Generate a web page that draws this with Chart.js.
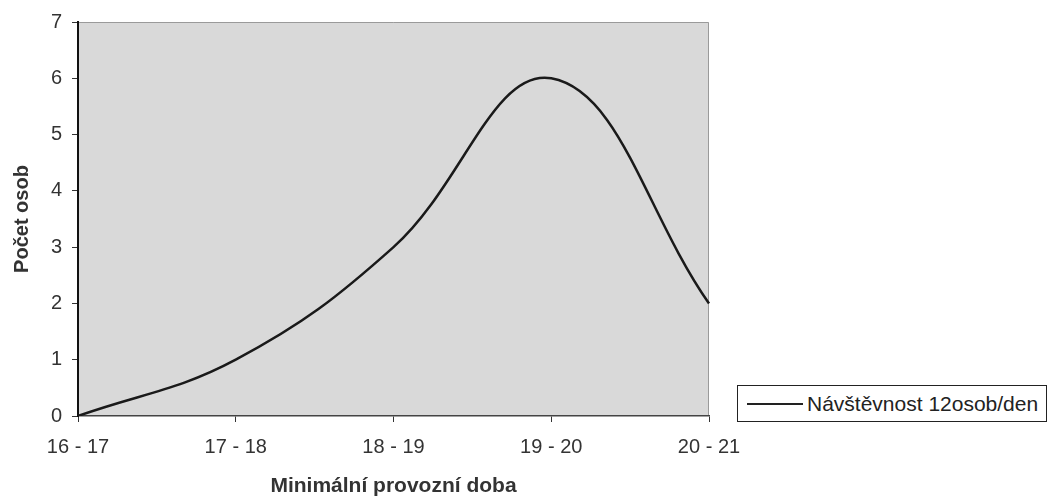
<!DOCTYPE html>
<html>
<head>
<meta charset="utf-8">
<script src="https://cdn.jsdelivr.net/npm/chart.js@4/dist/chart.umd.min.js"></script>
<style>
  html, body { margin: 0; padding: 0; background: #fff; }
  #wrap { position: relative; width: 1049px; height: 499px; }
  #legend { position: absolute; left: 737px; top: 385px; width: 310px; height: 37px;
    border: 1px solid #222; box-sizing: border-box; background: #fff;
    font-family: Arial, "Liberation Sans", sans-serif; font-size: 21px; color: #222;
    display: flex; align-items: center; white-space: nowrap; }
  #legend .sw { display: inline-block; width: 56px; height: 2px; background: #222; margin-left: 9px; margin-right: 4px; }
</style>
</head>
<body>
<div id="wrap">
  <canvas id="c" width="1049" height="499"></canvas>
  <div id="legend"><span class="sw"></span><span id="legtext"></span></div>
</div>
<script>
const categories = ["16 - 17", "17 - 18", "18 - 19", "19 - 20", "20 - 21"];
const visitors = [0, 1, 3, 6, 2];
const seriesName = "Návštěvnost 12osob/den";
const xTitle = "Minimální provozní doba";
const yTitle = "Počet osob";

document.getElementById('legtext').textContent = seriesName;

const bgPlugin = {
  id: 'plotBg',
  beforeDraw(chart) {
    const a = chart.chartArea, ctx = chart.ctx;
    ctx.save();
    ctx.fillStyle = '#d9d9d9';
    ctx.fillRect(a.left, a.top, a.right - a.left, a.bottom - a.top);
    ctx.strokeStyle = '#9a9a9a';
    ctx.lineWidth = 1;
    ctx.beginPath();
    ctx.moveTo(a.left, a.top + 0.5);
    ctx.lineTo(a.right - 0.5, a.top + 0.5);
    ctx.lineTo(a.right - 0.5, a.bottom);
    ctx.stroke();
    ctx.restore();
  }
};

const font = { family: 'Arial, "Liberation Sans", sans-serif' };

new Chart(document.getElementById('c'), {
  type: 'line',
  data: {
    labels: categories,
    datasets: [{
      label: seriesName,
      data: visitors,
      borderColor: '#1a1a1a',
      borderWidth: 2.5,
      pointRadius: 0,
      tension: 0.4,
      fill: false
    }]
  },
  options: {
    responsive: false,
    animation: false,
    layout: { padding: { left: 0, right: 340, top: 22, bottom: 0 } },
    plugins: { legend: { display: false }, tooltip: { enabled: false } },
    scales: {
      x: {
        offset: false,
        grid: { drawOnChartArea: false, color: '#333', tickLength: 6 },
        border: { display: true, color: '#444', width: 1.5 },
        ticks: { color: '#333', font: { ...font, size: 20 }, padding: 13, maxRotation: 0 },
        title: { display: true, text: xTitle, color: '#333',
                 font: { ...font, size: 21, weight: 'bold' }, padding: { top: 0, bottom: 0 } },
        afterFit(s) { s.height = 83; }
      },
      y: {
        min: 0, max: 7,
        grid: { drawOnChartArea: false, color: '#333', tickLength: 6 },
        border: { display: true, color: '#111', width: 2 },
        ticks: { stepSize: 1, color: '#333', font: { ...font, size: 20 }, padding: 10 },
        title: { display: true, text: yTitle, color: '#333',
                 font: { ...font, size: 20, weight: 'bold' }, padding: { top: 10, bottom: 0 } },
        afterFit(s) { s.width = 78; }
      }
    }
  },
  plugins: [bgPlugin]
});
</script>
</body>
</html>
